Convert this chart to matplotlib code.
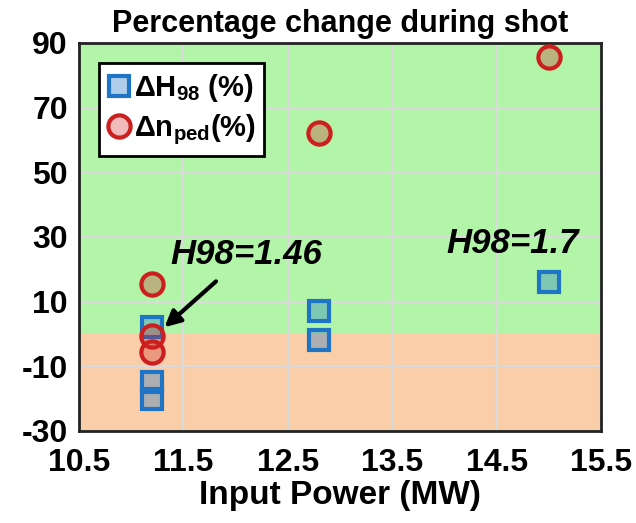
import matplotlib
matplotlib.use("Agg")
import matplotlib.pyplot as plt

plt.rcParams['font.family'] = ['Liberation Sans', 'DejaVu Sans']
plt.rcParams['mathtext.fontset'] = 'custom'
plt.rcParams['mathtext.rm'] = 'Liberation Sans:bold'
plt.rcParams['mathtext.it'] = 'Liberation Sans:bold'
plt.rcParams['mathtext.bf'] = 'Liberation Sans:bold'
plt.rcParams['axes.unicode_minus'] = False

# data
power_h98 = [11.2, 11.2, 11.2, 12.8, 12.8, 15.0]
dh98 = [2, -15, -20, 7, -2, 16]
power_nped = [11.2, 11.2, 11.2, 12.8, 15.0]
dnped = [15.5, -0.5, -5.5, 62, 85.5]

xticks = [10.5, 11.5, 12.5, 13.5, 14.5, 15.5]
yticks = [-30, -10, 10, 30, 50, 70, 90]

blue = '#1f74c6'
red = '#cc2020'
green_bg = '#b2f5a9'
orange_bg = '#f9cea8'

fig = plt.figure(figsize=(6.36, 5.23), dpi=100)
ax = fig.add_axes([0.124, 0.176, 0.821, 0.742])

ax.axhspan(0, 90, color=green_bg, zorder=0)
ax.axhspan(-30, 0, color=orange_bg, zorder=0)
ax.grid(True, color='#dadada', linewidth=1.5, zorder=1)
ax.set_axisbelow(True)

ax.plot(power_h98, dh98, linestyle='none', marker='s', markersize=14,
        markeredgewidth=3, markeredgecolor=blue,
        markerfacecolor=(0.12, 0.45, 0.78, 0.35), label=r'ΔH$_{98}$ (%)', zorder=3)
ax.plot(power_nped, dnped, linestyle='none', marker='o', markersize=16,
        markeredgewidth=3, markeredgecolor=red,
        markerfacecolor=(0.8, 0.12, 0.12, 0.3), label=r'Δn$_{ped}$(%)', zorder=4)

ax.set_xlim(10.5, 15.5)
ax.set_ylim(-30, 90)
ax.set_xticks(xticks)
ax.set_yticks(yticks)
ax.set_xticklabels([str(t) for t in xticks])
ax.tick_params(length=0, labelsize=23)
ax.tick_params(axis='x', pad=12)
ax.tick_params(axis='y', pad=8)
for lab in ax.get_xticklabels() + ax.get_yticklabels():
    lab.set_fontweight('bold')
for s in ax.spines.values():
    s.set_linewidth(2)
    s.set_color('#222222')

ax.set_xlabel('Input Power (MW)', fontsize=24, fontweight='bold', labelpad=2)
ax.set_title('Percentage change during shot', fontsize=22, fontweight='bold', pad=8)

leg = ax.legend(loc='upper left', fontsize=21, frameon=True, fancybox=False,
                framealpha=1, handletextpad=0.1, handlelength=0.8, borderpad=0.3,
                labelspacing=0.3, bbox_to_anchor=(0.01, 0.985))
leg.get_frame().set_edgecolor('black')
leg.get_frame().set_linewidth(2)
for t in leg.get_texts():
    t.set_fontweight('bold')

ax.annotate('H98=1.46', xy=(11.3, 1.5), xytext=(12.1, 24.5),
            fontsize=25, fontweight='bold', fontstyle='italic', ha='center',
            va='center', arrowprops=dict(arrowstyle='-|>', color='black', lw=3,
                                         mutation_scale=24, shrinkA=8),
            zorder=5)
ax.text(14.65, 28, 'H98=1.7', fontsize=25, fontweight='bold', fontstyle='italic',
        ha='center', va='center', zorder=5)

fig.savefig('out.png', dpi=100)
